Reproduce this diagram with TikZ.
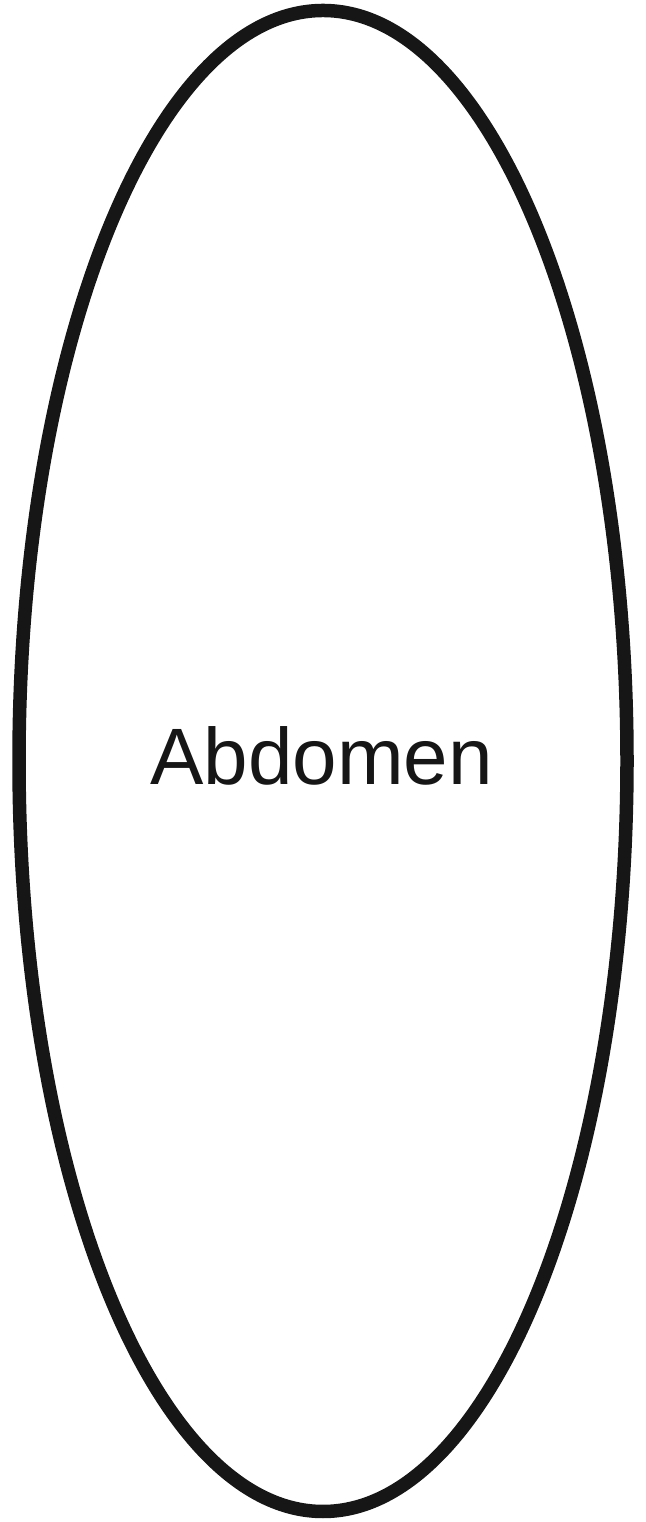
\documentclass[tikz,border=0pt]{standalone}
\usepackage{fontspec}
\setmainfont{Liberation Sans}
\definecolor{ink}{HTML}{161616}
\begin{document}
\begin{tikzpicture}[x=1pt,y=1pt,
  organ/.style={draw=ink,line width=13.5pt},
  lbl/.style={font=\fontsize{80}{96}\selectfont,text=ink,anchor=base,inner sep=0pt}]
\useasboundingbox (0,0) rectangle (645,1522);
\draw[organ] (323,761) ellipse [x radius=304, y radius=750.5];
\node[lbl] (abd) at (321.5,737) {Abdomen};
\end{tikzpicture}
\end{document}
